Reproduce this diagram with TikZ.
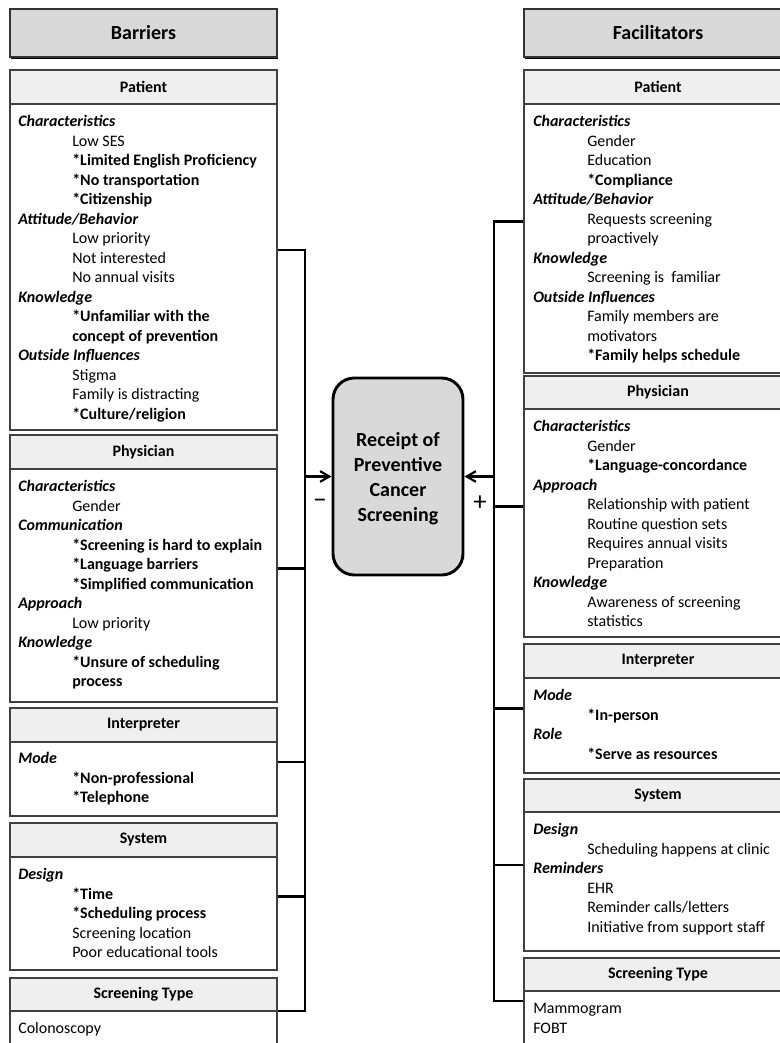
\documentclass[tikz,border=0pt]{standalone}
\usepackage{fontspec}
\setmainfont{Carlito}
\usepackage{tikz}
\usetikzlibrary{arrows.meta,fit,shadows}
\usepackage{xcolor}
\definecolor{boxline}{HTML}{404040}
\definecolor{headfill}{HTML}{EFEFEF}
\definecolor{titlefill}{HTML}{D9D9D9}
\newcommand{\grp}[1]{\textbf{\textit{#1}}}
\newcommand{\itm}[1]{\hspace*{40.5pt}#1}
\newcommand{\bitm}[1]{\hspace*{40.5pt}\textbf{#1}}

\begin{document}
\begin{tikzpicture}[x=0.75pt,y=-0.75pt,>={Straight Barb[length=7pt,width=8pt]},
  titlebox/.style={draw=black!80,line width=0.8pt,fill=titlefill,inner sep=0,drop shadow={shadow xshift=0.6pt,shadow yshift=-1.5pt,fill=black,opacity=1}},
  titletxt/.style={inner sep=0,font=\fontsize{15}{18}\selectfont\bfseries},
  secbox/.style={draw=boxline,line width=0.8pt,fill=white,inner sep=0},
  sechead/.style={draw=boxline,line width=0.8pt,fill=headfill,inner sep=0},
  headtxt/.style={inner sep=0,font=\fontsize{12}{14.6}\selectfont\bfseries},
  body/.style={anchor=north west,align=left,inner sep=0,font=\fontsize{12}{14.625}\selectfont},
  goal/.style={draw=black,line width=2.2pt,fill=titlefill,rounded corners=16pt,inner sep=0},
  goaltxt/.style={inner sep=0,align=center,font=\fontsize{15}{18.75}\selectfont\bfseries},
  link/.style={line width=1.6pt,black},
  sign/.style={inner sep=0,font=\fontsize{20}{20}\selectfont}]
\useasboundingbox (0,0) rectangle (780,1043);
\clip (0,0) rectangle (780,1043);

\node[titlebox,fit={(10,9) (277,57)}] (btitle) {};
\node[titletxt] (btitlel) at (btitle.center) {Barriers};
\node[titlebox,fit={(524,9) (792,57)}] (ftitle) {};
\node[titletxt] (ftitlel) at (ftitle.center) {Facilitators};

\node[secbox,fit={(10,70) (277,430)}] (bpat) {};
\node[sechead,fit={(10,70) (277,104)}] (bpath) {};
\node[headtxt] (bpatl) at (bpath.center) {Patient};
\node[body] (bpatt) at (18,113) {\strut\grp{Characteristics}\\
\itm{Low SES}\\
\bitm{*Limited English Proficiency}\\
\bitm{*No transportation}\\
\bitm{*Citizenship}\\
\grp{Attitude/Behavior}\\
\itm{Low priority}\\
\itm{Not interested}\\
\itm{No annual visits}\\
\grp{Knowledge}\\
\bitm{*Unfamiliar with the}\\
\bitm{concept of prevention}\\
\grp{Outside Influences}\\
\itm{Stigma}\\
\itm{Family is distracting}\\
\bitm{*Culture/religion}};

\node[secbox,fit={(10,435) (277,702)}] (bphy) {};
\node[sechead,fit={(10,435) (277,469)}] (bphyh) {};
\node[headtxt] (bphyl) at (bphyh.center) {Physician};
\node[body] (bphyt) at (18,478) {\strut\grp{Characteristics}\\
\itm{Gender}\\
\grp{Communication}\\
\bitm{*Screening is hard to explain}\\
\bitm{*Language barriers}\\
\bitm{*Simplified communication}\\
\grp{Approach}\\
\itm{Low priority}\\
\grp{Knowledge}\\
\bitm{*Unsure of scheduling}\\
\bitm{process}};

\node[secbox,fit={(10,708) (277,816)}] (bint) {};
\node[sechead,fit={(10,708) (277,742)}] (binth) {};
\node[headtxt] (bintl) at (binth.center) {Interpreter};
\node[body] (bintt) at (18,750) {\strut\grp{Mode}\\
\bitm{*Non-professional}\\
\bitm{*Telephone}};

\node[secbox,fit={(10,823) (277,970)}] (bsys) {};
\node[sechead,fit={(10,823) (277,857)}] (bsysh) {};
\node[headtxt] (bsysl) at (bsysh.center) {System};
\node[body] (bsyst) at (18,866) {\strut\grp{Design}\\
\bitm{*Time}\\
\bitm{*Scheduling process}\\
\itm{Screening location}\\
\itm{Poor educational tools}};

\node[secbox,fit={(10,978) (277,1044)}] (bscr) {};
\node[sechead,fit={(10,978) (277,1011)}] (bscrh) {};
\node[headtxt] (bscrl) at (bscrh.center) {Screening Type};
\node[body] (bscrt) at (18,1020) {\strut Colonoscopy};

\node[secbox,fit={(524,70) (792,373)}] (fpat) {};
\node[sechead,fit={(524,70) (792,104)}] (fpath) {};
\node[headtxt] (fpatl) at (fpath.center) {Patient};
\node[body] (fpatt) at (533,113) {\strut\grp{Characteristics}\\
\itm{Gender}\\
\itm{Education}\\
\bitm{*Compliance}\\
\grp{Attitude/Behavior}\\
\itm{Requests screening}\\
\itm{proactively}\\
\grp{Knowledge}\\
\itm{Screening is~ familiar}\\
\grp{Outside Influences}\\
\itm{Family members are}\\
\itm{motivators}\\
\bitm{*Family helps schedule}};

\node[secbox,fit={(524,376) (792,637)}] (fphy) {};
\node[sechead,fit={(524,376) (792,409)}] (fphyh) {};
\node[headtxt] (fphyl) at (fphyh.center) {Physician};
\node[body] (fphyt) at (533,418) {\strut\grp{Characteristics}\\
\itm{Gender}\\
\bitm{*Language-concordance}\\
\grp{Approach}\\
\itm{Relationship with patient}\\
\itm{Routine question sets}\\
\itm{Requires annual visits}\\
\itm{Preparation}\\
\grp{Knowledge}\\
\itm{Awareness of screening}\\
\itm{statistics}};

\node[secbox,fit={(524,644) (792,773)}] (fint) {};
\node[sechead,fit={(524,644) (792,678)}] (finth) {};
\node[headtxt] (fintl) at (finth.center) {Interpreter};
\node[body] (fintt) at (533,687) {\strut\grp{Mode}\\
\bitm{*In-person}\\
\grp{Role}\\
\bitm{*Serve as resources}};

\node[secbox,fit={(524,779) (792,951)}] (fsys) {};
\node[sechead,fit={(524,779) (792,812)}] (fsysh) {};
\node[headtxt] (fsysl) at (fsysh.center) {System};
\node[body] (fsyst) at (533,821) {\strut\grp{Design}\\
\itm{Scheduling happens at clinic}\\
\grp{Reminders}\\
\itm{EHR}\\
\itm{Reminder calls/letters}\\
\itm{Initiative from support staff}};

\node[secbox,fit={(524,958) (792,1044)}] (fscr) {};
\node[sechead,fit={(524,958) (792,991)}] (fscrh) {};
\node[headtxt] (fscrl) at (fscrh.center) {Screening Type};
\node[body] (fscrt) at (533,1000) {\strut Mammogram\\FOBT};

\node[goal,fit={(333,378) (463,575)}] (goal) {};
\node[goaltxt] (goall) at ([yshift=-2pt]goal.center) {Receipt of\\Preventive\\Cancer\\Screening};

\coordinate (lbus) at (305,0);
\coordinate (rbus) at (494,0);
\draw[link] (bpat.east) -- (bpat.east -| lbus) -- (bscr.east -| lbus) -- (bscr.east);
\draw[link] (bphy.east) -- (bphy.east -| lbus);
\draw[link] (bint.east) -- (bint.east -| lbus);
\draw[link] (bsys.east) -- (bsys.east -| lbus);
\draw[link,->] (goal.west -| lbus) -- (goal.west);
\draw[link] (fpat.west) -- (fpat.west -| rbus) -- (fscr.west -| rbus) -- (fscr.west);
\draw[link] (fphy.west) -- (fphy.west -| rbus);
\draw[link] (fint.west) -- (fint.west -| rbus);
\draw[link] (fsys.west) -- (fsys.west -| rbus);
\draw[link,->] (goal.east -| rbus) -- (goal.east);

\node[sign] (minus) at (320,504) {−};
\node[sign] (plus) at (480,503) {+};
\end{tikzpicture}
\end{document}
